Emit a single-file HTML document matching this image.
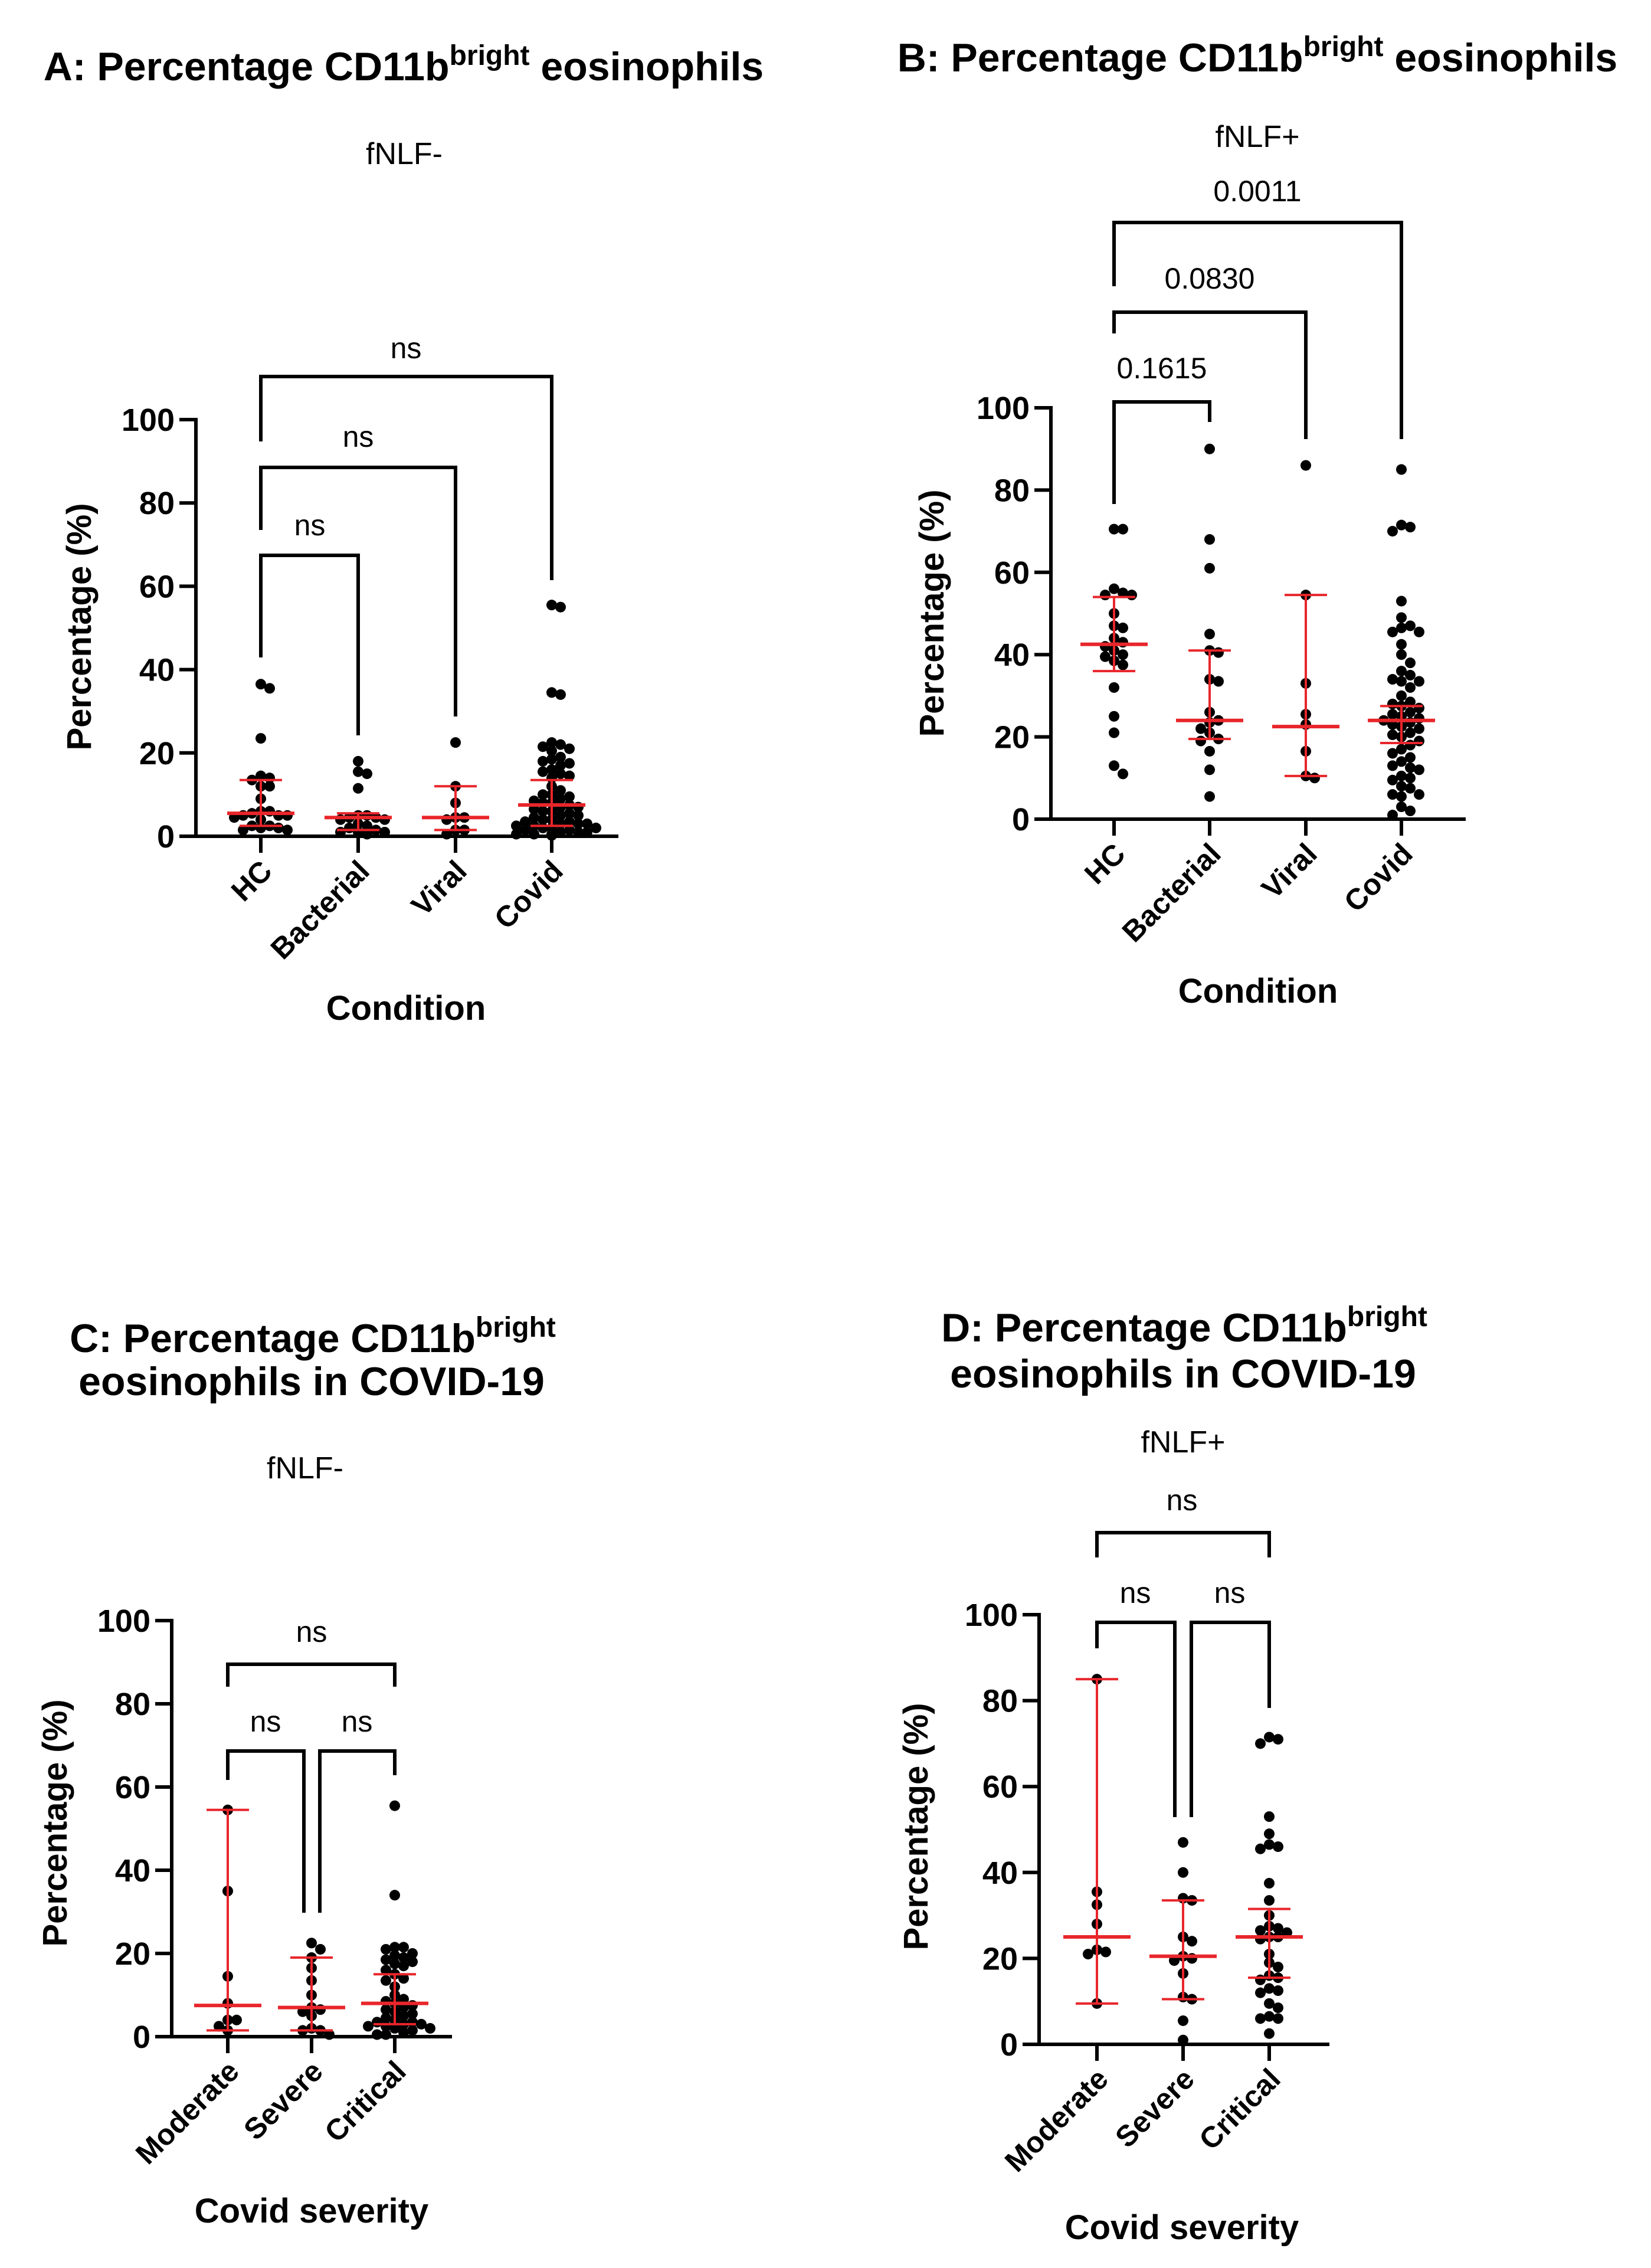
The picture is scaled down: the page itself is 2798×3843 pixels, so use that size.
<!DOCTYPE html>
<html><head><meta charset="utf-8"><style>
html,body{margin:0;padding:0;background:#fff}
svg{display:block}
text{font-family:"Liberation Sans",Arial,sans-serif;fill:#000}
</style></head><body>
<svg id="fig" xmlns="http://www.w3.org/2000/svg" width="2798" height="3843" viewBox="0 0 2798 3843">
<rect width="2798" height="3843" fill="#fff"/>
<g><text x="684" y="136" text-anchor="middle" font-size="68" font-weight="bold">A: Percentage CD11b<tspan font-size="48" dy="-26">bright</tspan><tspan dy="26"> eosinophils</tspan></text></g>
<g><text x="2131" y="121" text-anchor="middle" font-size="68" font-weight="bold">B: Percentage CD11b<tspan font-size="48" dy="-26">bright</tspan><tspan dy="26"> eosinophils</tspan></text></g>
<g><text x="530" y="2291" text-anchor="middle" font-size="68" font-weight="bold">C: Percentage CD11b<tspan font-size="48" dy="-26">bright</tspan></text><text x="528" y="2364" text-anchor="middle" font-size="68" font-weight="bold">eosinophils in COVID-19</text></g>
<g><text x="2007" y="2273" text-anchor="middle" font-size="68" font-weight="bold">D: Percentage CD11b<tspan font-size="48" dy="-26">bright</tspan></text><text x="2005" y="2351" text-anchor="middle" font-size="68" font-weight="bold">eosinophils in COVID-19</text></g>
</svg>
<script>
// ---- data ----
const catsAB = ["HC","Bacterial","Viral","Covid"];
const catsCD = ["Moderate","Severe","Critical"];
const yTicks = [0,20,40,60,80,100];

const aHC = [36.5,35.5,23.5,14.5,14,13.5,12,12,9,6,6,5.5,5,5,5,4.5,4,2.5,2.5,2,2,1.5,1.5];
const aBact = [18,15.5,15,11.5,5,5,4.5,4.5,4,4,3,2.5,2,1.5,1,1,1,0.5];
const aViral = [22.5,12,8,4.5,4.5,4,1.5,1.5,0.5];
const aCovid = [55.5,55,34.5,34,22.5,22,21.5,21,20.5,19,18.5,18,17.5,17,16,15.5,15,14.5,14,12,11,10,10,9.5,9,8.5,8,8,7.5,7,7,6.5,6,6,5.5,5,5,4.5,4,4,3.5,3.5,3,3,3,2.5,2.5,2,2,2,1.5,1.5,1,1,1,0.5,0.5,0.5,0.3,0.2];
const aMedian = [5.5,4.5,4.5,7.5];
const aQ1 = [2.5,1.5,1.5,2.5];
const aQ3 = [13.5,5.5,12,13.5];

const bHC = [70.5,70.5,56,55,54.5,54.5,50,47,46.5,44,43,42,41,40,39.5,38.5,37.5,32,25,21,13,11];
const bBact = [90,68,61,45,41,40.5,34,33.5,26,24,23.5,22,21,19.5,19,16.5,12,5.5];
const bViral = [86,54.5,33,25.5,23,16.5,10.5,10];
const bCovid = [85,71.5,71,70,53,49,47,46.5,45.5,45.5,42.5,40,38,36,35,34,33.5,33.5,32,30,28.5,28,27.5,27,26,25.5,25,24.5,24,23.5,23,22.5,22,21,20.5,20,19,18,17,16,15,14,13,12.5,12,10.5,10,9.5,8,7.5,6,6,5.5,3,2,1];
const bMedian = [42.5,24,22.5,24];
const bQ1 = [36,19.5,10.5,18.5];
const bQ3 = [54,41,54.5,27.5];

const cMod = [54.5,35,14.5,8,4,4,2.5,1.5];
const cSev = [22.5,21,19,16.5,13.5,10,7,6.5,6,5,2,1.5,1.5,0.5];
const cCrit = [55.5,34,21.5,21.5,21,20,19.5,19,18.5,18,17.5,17,16,15,14,13.5,12,10,9,8.5,8,7.5,7,6.5,6,5.5,5,4.5,4,3.5,3.5,3,3,2.5,2.5,2,2,1.5,1,0.5,0.5];
const cMedian = [7.5,7,8];
const cQ1 = [1.5,1.5,3];
const cQ3 = [54.5,19,15];

const dMod = [85,35.5,32.5,28,22,21.5,21,9.5];
const dSev = [47,40,34,33.5,25,24,20.5,20,19.5,16.5,11,10.5,5.5,1];
const dCrit = [71.5,71,70,53,49,46.5,46,45.5,37.5,33.5,30,27.5,27,26.5,26,25,25,24.5,21,19,18,16,15.5,15,13,12.5,12,9.5,8.5,6.5,6,6,2.5];
const dMedian = [25,20.5,25];
const dQ1 = [9.5,10.5,15.5];
const dQ3 = [85,33.5,31.5];

const aSig = ["ns","ns","ns"];
const bSig = ["0.0011","0.0830","0.1615"];
const cSig = ["ns","ns","ns"];
const dSig = ["ns","ns","ns"];

const NS="http://www.w3.org/2000/svg";
const svg=document.getElementById('fig');
function mk(tag,attrs,parent){const e=document.createElementNS(NS,tag);for(const k in attrs)e.setAttribute(k,attrs[k]);(parent||svg).appendChild(e);return e;}

function panel(p){
  const g=mk('g',{});
  
  
  const yS=v=>p.y0-(v/100)*(p.y0-p.y100);
  const st=mk('text',{x:p.subX,y:p.subY,'text-anchor':'middle','font-size':52},g);st.textContent=p.sub;
  
  
  const ax=mk('g',{stroke:'#000','stroke-width':6,fill:'none'},g);
  
  
  mk('line',{x1:p.ax,y1:p.y100-3,x2:p.ax,y2:p.y0+3},ax);
  mk('line',{x1:p.ax,y1:p.y0,x2:p.axEnd,y2:p.y0},ax);
  yTicks.forEach(t=>{
    mk('line',{x1:p.ax-28,y1:yS(t),x2:p.ax,y2:yS(t)},ax);
    const tl=mk('text',{x:p.ax-36,y:yS(t)+19,'text-anchor':'end','font-size':54,'font-weight':'bold'},g);
    tl.textContent=t;
    
    
  });
  const yt=mk('text',{x:p.ytX,y:p.ytY,'text-anchor':'middle','font-size':58,'font-weight':'bold',transform:`rotate(-90 ${p.ytX} ${p.ytY})`},g);
  yt.textContent='Percentage (%)';
  
  
  const xt=mk('text',{x:p.xtX,y:p.xtY,'text-anchor':'middle','font-size':58,'font-weight':'bold'},g);
  xt.textContent=p.xTitle;
  
  
  p.cats.forEach((c,i)=>{
    const cx=p.cx[i];
    mk('line',{x1:cx,y1:p.y0,x2:cx,y2:p.y0+28},ax);
    const lx=cx+22,ly=p.y0+62;
    const tl=mk('text',{x:lx,y:ly,'text-anchor':'end','font-size':50,'font-weight':'bold',transform:`rotate(-45 ${lx} ${ly})`},g);
    tl.textContent=c;
    
    
    // beeswarm (allowing slight overlap)
    const r=9,d=14,step=15;const placed=[];
    const vals=p.groups[i].slice().sort((a,b)=>b-a);
    vals.forEach(v=>{
      const y=yS(v);let off=0;
      for(let k=0;k<10;k++){
        const o=(k===0)?0:(k%2?1:-1)*Math.ceil(k/2)*step;
        if(placed.every(q=>Math.hypot(q[0]-o,q[1]-y)>=d)){off=o;break;}
        if(k===9)off=0;
      }
      placed.push([off,y]);
      const dot=mk('circle',{cx:cx+off,cy:y,r:r,fill:'#000'},g);
      
      
    });
    const eg=mk('g',{stroke:'#e8262b','stroke-width':4,fill:'none'},g);
    
    
    mk('line',{x1:cx,y1:yS(p.q1[i]),x2:cx,y2:yS(p.q3[i])},eg);
    mk('line',{x1:cx-36,y1:yS(p.q1[i]),x2:cx+36,y2:yS(p.q1[i])},eg);
    mk('line',{x1:cx-36,y1:yS(p.q3[i]),x2:cx+36,y2:yS(p.q3[i])},eg);
    mk('line',{x1:cx-57,y1:yS(p.med[i]),x2:cx+57,y2:yS(p.med[i]),'stroke-width':6},eg);
  });
  p.brackets.forEach((b,j)=>{
    const bg=mk('g',{},g);
    
    
    mk('polyline',{points:`${b[0]},${b[2]} ${b[0]},${b[1]} ${b[3]},${b[1]} ${b[3]},${b[4]}`,stroke:'#000','stroke-width':6,fill:'none'},bg);
    const t=mk('text',{x:b[5],y:b[6]+18,'text-anchor':'middle','font-size':50},bg);
    t.textContent=p.sig[j];
  });
}

panel({id:'a',sub:'fNLF-',subX:685,subY:278,ax:332,axEnd:1048,y0:1417,y100:711,cats:catsAB,cx:[442,607,772,935],
  groups:[aHC,aBact,aViral,aCovid],med:aMedian,q1:aQ1,q3:aQ3,sig:aSig,
  ytX:154,ytY:1062,xTitle:'Condition',xtX:688,xtY:1728,
  brackets:[[442,638,748,935,983,688,589],[442,792,898,772,1214,607,739],[442,941,1114,607,1246,525,889]]});
panel({id:'b',sub:'fNLF+',subX:2131,subY:249,ax:1781,axEnd:2484,y0:1388,y100:691,cats:catsAB,cx:[1888,2050,2213,2375],
  groups:[bHC,bBact,bViral,bCovid],med:bMedian,q1:bQ1,q3:bQ3,sig:bSig,
  ytX:1599,ytY:1039,xTitle:'Condition',xtX:2132,xtY:1699,
  brackets:[[1888,377,485,2375,744,2131,323],[1888,529,565,2213,744,2050,471],[1888,681,854,2050,715,1969,623]]});
panel({id:'c',sub:'fNLF-',subX:517,subY:2505,ax:291,axEnd:766,y0:3451,y100:2746,cats:catsCD,cx:[386,528,669],
  groups:[cMod,cSev,cCrit],med:cMedian,q1:cQ1,q3:cQ3,sig:cSig,
  ytX:113,ytY:3089,xTitle:'Covid severity',xtX:528,xtY:3766,
  brackets:[[386,2820,2858,669,2858,528,2764],[386,2967,3016,515,3241,450,2916],[542,2967,3241,669,3008,605,2916]]});
panel({id:'d',sub:'fNLF+',subX:2005,subY:2461,ax:1761,axEnd:2253,y0:3464,y100:2736,cats:catsCD,cx:[1859,2005,2151],
  groups:[dMod,dSev,dCrit],med:dMedian,q1:dQ1,q3:dQ3,sig:dSig,
  ytX:1572,ytY:3095,xTitle:'Covid severity',xtX:2003,xtY:3794,
  brackets:[[1859,2597,2639,2151,2639,2003,2541],[1859,2749,2793,1991,3079,1924,2698],[2019,2749,3079,2151,2894,2084,2698]]});
</script>
</body></html>
